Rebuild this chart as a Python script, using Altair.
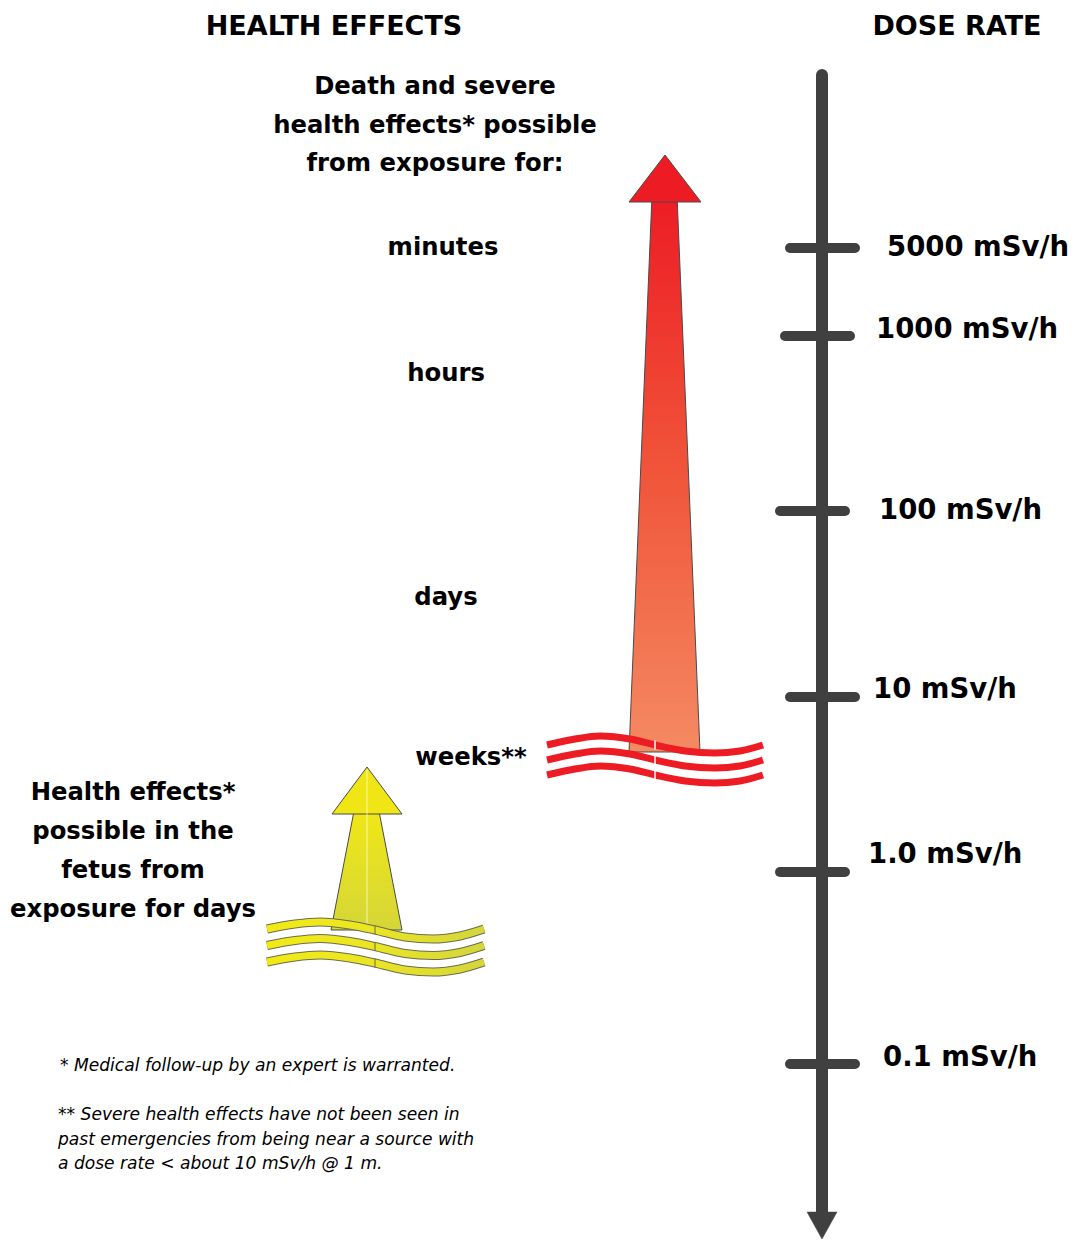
import altair as alt
import pandas as pd

# ---- canvas (reference pixel space) ----
W, H = 1062, 1231
X0, Y0 = 8, 8
FONT = "DejaVu Sans"

# ---- data ----
titles = ["HEALTH EFFECTS", "DOSE RATE"]
title_x = [334, 957]
title_y = [27, 27]

dose_labels = ["5000 mSv/h", "1000 mSv/h", "100 mSv/h", "10 mSv/h", "1.0 mSv/h", "0.1 mSv/h"]
tick_y = [248, 336, 511, 697, 872, 1064]
tick_x1 = [790, 785, 780, 790, 780, 790]
tick_x2 = [855, 850, 845, 855, 845, 855]
label_x = [887, 876, 879, 873, 868, 883]
label_y = [248, 330, 511, 690, 855, 1058]

severe_lines = ["Death and severe", "health effects* possible", "from exposure for:"]
severe_x = [435, 435, 435]
severe_y = [87, 126, 164]

durations = ["minutes", "hours", "days", "weeks**"]
duration_x = [443, 446, 446, 471]
duration_y = [248, 374, 598, 758]

fetus_lines = ["Health effects*", "possible in the", "fetus from", "exposure for days"]
fetus_x = [133, 133, 133, 133]
fetus_y = [793, 832, 871, 910]

notes = ["* Medical follow-up by an expert is warranted.",
         "** Severe health effects have not been seen in",
         "past emergencies from being near a source with",
         "a dose rate < about 10 mSv/h @ 1 m."]
note_x = [60, 58, 58, 58]
note_y = [1066, 1115, 1140, 1164]

# arrows (outline points)
red_head_y = [155, 202]
red_head_l = [665, 629]
red_head_r = [665, 701]
red_shaft_y = [195, 752]
red_shaft_l = [652, 629]
red_shaft_r = [677, 700]

yel_head_y = [767, 814]
yel_head_l = [367, 332]
yel_head_r = [367, 402]
yel_shaft_y = [806, 930]
yel_shaft_l = [355, 331]
yel_shaft_r = [378, 402]

# waves
red_wave_x = [547, 575, 600, 630, 655, 685, 715, 740, 763]
red_wave_y = [745, 739, 736, 739, 745, 751, 753, 751, 745]
red_wave_gap = [0, 15, 30]
red_break_x, red_break_y = 655, 745

yel_wave_x = [267, 295, 320, 350, 375, 405, 433, 460, 484]
yel_wave_y = [929, 924, 922, 925, 930, 937, 939, 936, 929]
yel_wave_gap = [0, 16.5, 33]
yel_break_x, yel_break_y = 375, 930

# ---- scales ----
xs = alt.Scale(domain=[X0, X0 + W], nice=False, zero=False)
ys = alt.Scale(domain=[Y0, Y0 + H], reverse=True, nice=False, zero=False)


def X(f):
    return alt.X(f, type="quantitative", scale=xs, axis=None)


def Y(f):
    return alt.Y(f, type="quantitative", scale=ys, axis=None)


def text_layer(labels, xv, yv, size, weight="bold", align="center", style="normal"):
    df = pd.DataFrame({"t": labels, "x": xv, "y": yv})
    return alt.Chart(df).mark_text(font=FONT, fontSize=size, fontWeight=weight,
                                   fontStyle=style, align=align, baseline="middle",
                                   color="#000000").encode(x=X("x"), y=Y("y"), text="t:N")


def area_layer(yv, lv, rv, fill, stroke="#4a4a4a", sw=1.0):
    df = pd.DataFrame({"y": yv, "l": lv, "r": rv})
    return alt.Chart(df).mark_area(orient="horizontal", color=fill, stroke=stroke,
                                   strokeWidth=sw, opacity=1).encode(
        y=Y("y"), x=X("l"), x2="r")


def grad_v(stops):
    return alt.Gradient(gradient="linear", x1=0, x2=0, y1=0, y2=1,
                        stops=[alt.GradientStop(color=c, offset=o) for o, c in stops])


def grad_h(stops):
    return alt.Gradient(gradient="linear", x1=0, x2=1, y1=0, y2=0,
                        stops=[alt.GradientStop(color=c, offset=o) for o, c in stops])


def wave_df(xv, yv, gaps):
    rows = []
    for i, g in enumerate(gaps):
        for xx, yy in zip(xv, yv):
            rows.append({"x": xx, "y": yy + g, "k": i})
    return pd.DataFrame(rows)


def break_layer(bx, by, gaps, half, color, sw):
    df = pd.DataFrame({"x": [bx] * len(gaps),
                       "y": [by + g - half for g in gaps],
                       "y2": [by + g + half for g in gaps]})
    return alt.Chart(df).mark_rule(color=color, strokeWidth=sw).encode(
        x=X("x"), y=Y("y"), y2="y2")


# ---- layers ----
titles_l = text_layer(titles, title_x, title_y, 27)

axis_df = pd.DataFrame({"x": [822], "y": [75], "y2": [1215]})
axis_l = alt.Chart(axis_df).mark_rule(color="#404040", strokeWidth=12, strokeCap="round").encode(
    x=X("x"), y=Y("y"), y2="y2")
axis_head = area_layer([1212, 1239], [807, 822], [837, 822], "#404040", stroke="#404040", sw=0.5)

ticks_df = pd.DataFrame({"x1": tick_x1, "x2": tick_x2, "y": tick_y})
ticks_l = alt.Chart(ticks_df).mark_rule(color="#404040", strokeWidth=10, strokeCap="round").encode(
    x=X("x1"), x2="x2", y=Y("y"))
tick_labels = text_layer(dose_labels, label_x, label_y, 27.5, align="left")

severe_l = text_layer(severe_lines, severe_x, severe_y, 24.3)
durations_l = text_layer(durations, duration_x, duration_y, 24.3)
fetus_l = text_layer(fetus_lines, fetus_x, fetus_y, 24.3)
notes_l = text_layer(notes, note_x, note_y, 17.1, weight="normal", align="left", style="italic")

red_shaft = area_layer(red_shaft_y, red_shaft_l, red_shaft_r,
                       grad_v([(0, "#ed1c24"), (0.5, "#f0553a"), (1, "#f48a62")]))
red_head = area_layer(red_head_y, red_head_l, red_head_r, "#ed1c24")

red_wave = alt.Chart(wave_df(red_wave_x, red_wave_y, red_wave_gap)).mark_line(
    color="#ed1c24", strokeWidth=7, interpolate="monotone", strokeCap="butt").encode(
    x=X("x"), y=Y("y"), detail="k:N")
red_gap = break_layer(red_break_x, red_break_y, red_wave_gap, 4.5, "#ffffff", 1.5)

yel_shaft = area_layer(yel_shaft_y, yel_shaft_l, yel_shaft_r,
                       grad_v([(0, "#f1e815"), (1, "#d5d638")]))
yel_head = area_layer(yel_head_y, yel_head_l, yel_head_r, "#f0e616")
yel_mid = alt.Chart(pd.DataFrame({"x": [367], "y": [770], "y2": [926]})).mark_rule(
    color="#ffffff", strokeWidth=1, opacity=0.7).encode(x=X("x"), y=Y("y"), y2="y2")

ydf = wave_df(yel_wave_x, yel_wave_y, yel_wave_gap)
yel_wave_outline = alt.Chart(ydf).mark_line(
    color="#6b6b50", strokeWidth=9, interpolate="monotone", strokeCap="butt").encode(
    x=X("x"), y=Y("y"), detail="k:N")
yel_wave = alt.Chart(ydf).mark_line(
    color=grad_h([(0, "#f2ea14"), (0.45, "#ece622"), (1, "#d3d63c")]),
    strokeWidth=7, interpolate="monotone", strokeCap="butt").encode(
    x=X("x"), y=Y("y"), detail="k:N")
yel_gap = break_layer(yel_break_x, yel_break_y, yel_wave_gap, 4.5, "#6b6b50", 1)

chart = alt.layer(
    axis_l, axis_head, ticks_l, tick_labels, titles_l,
    red_shaft, red_head, red_wave, red_gap,
    yel_shaft, yel_head, yel_mid, yel_wave_outline, yel_wave, yel_gap,
    severe_l, durations_l, fetus_l, notes_l,
).properties(width=W, height=H, padding=0, autosize="none").configure_view(stroke=None)

chart.save("out.html", embed_options={"renderer": "svg", "actions": False})
